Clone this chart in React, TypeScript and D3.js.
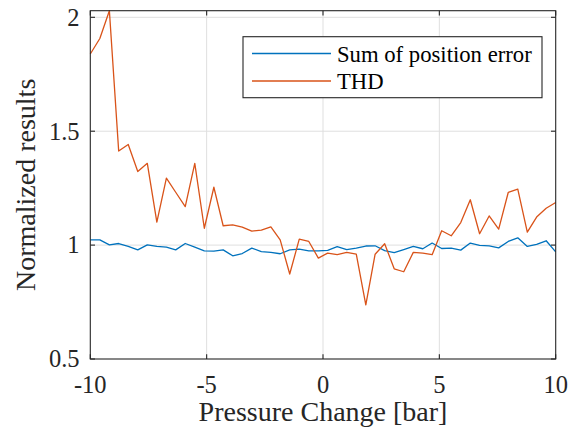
import * as d3 from "d3";

// x positions (bar), 50 samples across the range
const pressure = [
  -10.0, -9.59, -9.18, -8.78, -8.37, -7.96, -7.55, -7.14, -6.73, -6.33,
  -5.92, -5.51, -5.1, -4.69, -4.29, -3.88, -3.47, -3.06, -2.65, -2.24,
  -1.84, -1.43, -1.02, -0.61, -0.2, 0.2, 0.61, 1.02, 1.43, 1.84,
  2.24, 2.65, 3.06, 3.47, 3.88, 4.29, 4.69, 5.1, 5.51, 5.92,
  6.33, 6.73, 7.14, 7.55, 7.96, 8.37, 8.78, 9.18, 9.59, 10.0,
];

const positionError = [
  1.023, 1.023, 1.001, 1.007, 0.994, 0.979, 1.001, 0.994, 0.991, 0.979,
  1.007, 0.991, 0.975, 0.974, 0.979, 0.953, 0.963, 0.987, 0.971, 0.968,
  0.962, 0.979, 0.982, 0.975, 0.975, 0.977, 0.993, 0.98, 0.987, 0.996,
  0.997, 0.976, 0.967, 0.98, 0.994, 0.984, 1.009, 0.985, 0.987, 0.978,
  1.009, 0.999, 0.997, 0.988, 1.016, 1.032, 0.994, 1.003, 1.019, 0.97,
];

const thd = [
  1.839, 1.907, 2.029, 1.413, 1.442, 1.323, 1.359, 1.101, 1.294, 1.232,
  1.169, 1.359, 1.074, 1.254, 1.085, 1.089, 1.079, 1.061, 1.066, 1.08,
  1.023, 0.873, 1.026, 1.016, 0.943, 0.965, 0.958, 0.968, 0.96, 0.738,
  0.96, 1.006, 0.896, 0.883, 0.968, 0.965, 0.958, 1.063, 1.041, 1.099,
  1.199, 1.05, 1.128, 1.07, 1.231, 1.246, 1.057, 1.123, 1.162, 1.187,
];

const xTicks = [-10, -5, 0, 5, 10];
const yTicks = [0.5, 1, 1.5, 2];
const seriesNames = ["Sum of position error", "THD"];
const colors = ["#0072BD", "#D95319"];

const serif = { fontFamily: '"Liberation Serif"' };

const W = 577;
const H = 432;
const m = { left: 90.3, right: 555.7, top: 10.7, bottom: 359 };

export default function App() {
  const x = d3.scaleLinear().domain([-10, 10]).range([m.left, m.right]);
  const y = d3
    .scaleLinear()
    .domain([0.5, d3.max(thd) as number])
    .range([m.bottom, m.top]);

  const line = d3
    .line<number>()
    .x((d, i) => x(pressure[i]))
    .y((d) => y(d));

  const tl = 4.7;
  const axisColor = "#262626";

  return (
    <svg
      width={W}
      height={H}
      style={{ position: "absolute", left: 0, top: 0, display: "block", background: "#fff" }}
    >
      {/* grid */}
      <g stroke="#dfdfdf" strokeWidth={1}>
        {xTicks.slice(1, -1).map((t) => (
          <line key={"gx" + t} x1={x(t)} x2={x(t)} y1={m.top} y2={m.bottom} />
        ))}
        {yTicks.slice(1).map((t) => (
          <line key={"gy" + t} x1={m.left} x2={m.right} y1={y(t)} y2={y(t)} />
        ))}
      </g>

      {/* series */}
      {[positionError, thd].map((s, k) => (
        <path
          key={k}
          d={line(s) || ""}
          fill="none"
          stroke={colors[k]}
          strokeWidth={1.3}
          strokeLinejoin="round"
        />
      ))}

      {/* box + inward ticks */}
      <g stroke={axisColor} strokeWidth={1.1}>
        <rect
          x={m.left}
          y={m.top}
          width={m.right - m.left}
          height={m.bottom - m.top}
          fill="none"
        />
        {xTicks.map((t) => (
          <g key={"tx" + t}>
            <line x1={x(t)} x2={x(t)} y1={m.bottom} y2={m.bottom - tl} />
            <line x1={x(t)} x2={x(t)} y1={m.top} y2={m.top + tl} />
          </g>
        ))}
        {yTicks.map((t) => (
          <g key={"ty" + t}>
            <line x1={m.left} x2={m.left + tl} y1={y(t)} y2={y(t)} />
            <line x1={m.right} x2={m.right - tl} y1={y(t)} y2={y(t)} />
          </g>
        ))}
      </g>

      {/* tick labels */}
      <g fill={axisColor} style={{ ...serif, fontSize: "24.5px" }}>
        {xTicks.map((t) => (
          <text key={"lx" + t} x={x(t)} y={392.5} textAnchor="middle">
            {String(t)}
          </text>
        ))}
        {yTicks.map((t) => (
          <text key={"ly" + t} x={79.5} y={y(t) + 8.3} textAnchor="end">
            {String(t)}
          </text>
        ))}
      </g>

      {/* axis labels */}
      <text
        x={(m.left + m.right) / 2}
        y={421}
        textAnchor="middle"
        fill={axisColor}
        style={{ ...serif, fontSize: "28px" }}
      >
        Pressure Change [bar]
      </text>
      <text
        transform={`translate(35,${(m.top + m.bottom) / 2}) rotate(-90)`}
        textAnchor="middle"
        fill={axisColor}
        style={{ ...serif, fontSize: "28px" }}
      >
        Normalized results
      </text>

      {/* legend */}
      <g>
        <rect
          x={243}
          y={36.7}
          width={299}
          height={61}
          fill="#fff"
          stroke={axisColor}
          strokeWidth={1.1}
        />
        {seriesNames.map((name, k) => {
          const ly = 53.5 + k * 27.5;
          return (
            <g key={name}>
              <line x1={252} x2={331} y1={ly} y2={ly} stroke={colors[k]} strokeWidth={1.3} />
              <text x={337} y={ly + 8} fill="#000" style={{ ...serif, fontSize: "22.7px" }}>
                {name}
              </text>
            </g>
          );
        })}
      </g>
    </svg>
  );
}
